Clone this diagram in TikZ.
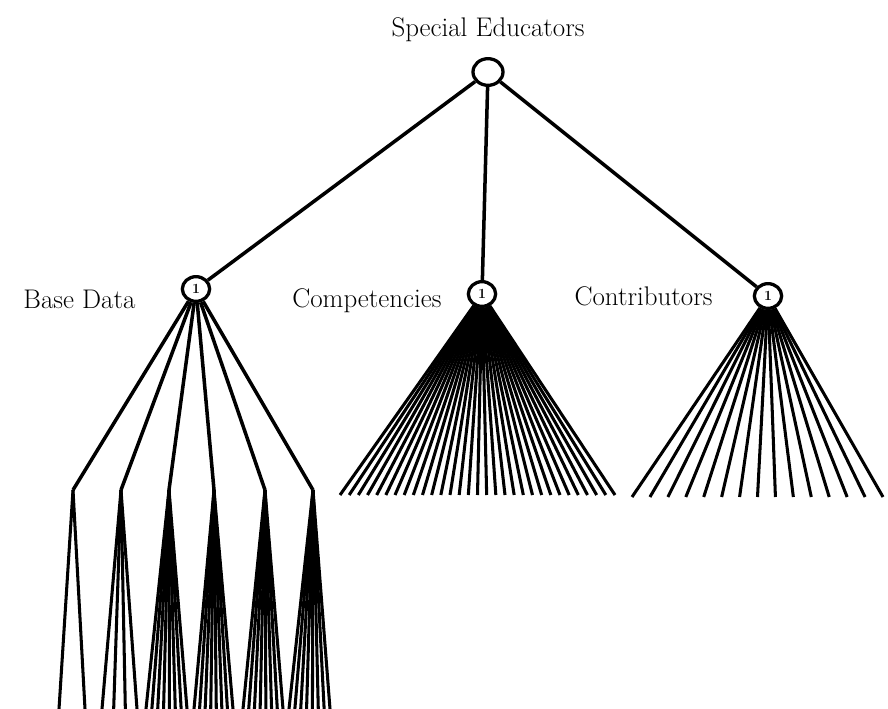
\documentclass[tikz,border=0pt]{standalone}
\usetikzlibrary{positioning,shapes.geometric}
\tikzset{
  root/.style={ellipse,draw,line width=2.8pt,fill=white,minimum width=0.9cm,minimum height=0.8cm,inner sep=0pt},
  group/.style={ellipse,draw,line width=2.8pt,fill=white,minimum width=0.82cm,minimum height=0.74cm,inner sep=0pt,font=\large\bfseries},
  title/.style={font=\fontsize{23}{27}\selectfont,inner sep=0pt},
  branch/.style={line width=3pt},
  twig/.style={line width=2.6pt}
}

\begin{document}
\begin{tikzpicture}[x=0.03cm,y=-0.03cm]
  \useasboundingbox (0,0) rectangle (888,709);

  % Tree nodes
  \node[root] (edu) at (488,72) {};
  \node[group] (base) at (196,289) {1};
  \node[group] (comp) at (482,294) {1};
  \node[group] (contr) at (768,296) {1};

  % Labels
  \node[title,above=0.45cm of edu] (edutxt) {Special Educators};
  \node[title,left=1.35cm of base,yshift=-0.3cm] (basetxt) {Base Data};
  \node[title,left=0.75cm of comp,yshift=-0.2cm] (comptxt) {Competencies};
  \node[title,left=1.2cm of contr] (contrtxt) {Contributors};

  % Top level
  \draw[branch] (edu) -- (base);
  \draw[branch] (edu) -- (comp);
  \draw[branch] (edu) -- (contr);

  % Base data: six branches, each with its own fan
  \foreach \x [count=\i] in {73,121,169,214,265,313} {
    \coordinate (k\i) at (\x,490);
    \draw[branch] (base) -- (k\i);
  }
  \foreach \k/\l/\r/\n in {1/59/85/2,2/102/137/4,3/146/187/8,4/194/233/8,5/243/283/8,6/289/330/8}
    \foreach \j in {1,...,\n} {
      \coordinate (k\k-\j) at ({\l+(\r-\l)*(\j-1)/(\n-1)},709);
      \draw[twig] (k\k) -- (k\k-\j);
    }

  % Competencies fan
  \foreach \j in {0,...,30} {
    \coordinate (c\j) at ({340+275*\j/30},495);
    \draw[twig] (comp) -- (c\j);
  }

  % Contributors fan
  \foreach \j in {0,...,14} {
    \coordinate (d\j) at ({632+251*\j/14},497);
    \draw[twig] (contr) -- (d\j);
  }
\end{tikzpicture}
\end{document}
